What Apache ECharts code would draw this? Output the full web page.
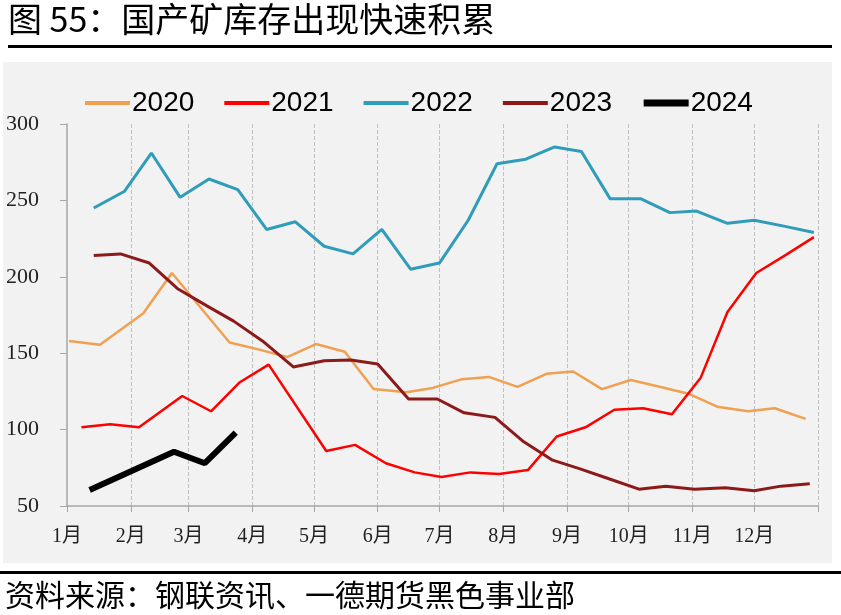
<!DOCTYPE html>
<html>
<head>
<meta charset="utf-8">
<script src="https://cdn.jsdelivr.net/npm/echarts@6/dist/echarts.min.js"></script>
<style>
html,body{margin:0;padding:0;background:#fff;}
#chart{width:841px;height:615px;}
</style>
</head>
<body>
<div id="chart"></div>
<script>
// Month tick labels and their day-of-year start positions
const monthLabels = ['1月','2月','3月','4月','5月','6月','7月','8月','9月','10月','11月','12月'];
const monthStartDays = [0,31,59,90,120,151,181,212,243,273,304,334,365];
const yearLen = 365;

const seriesNames = ['2020','2021','2022','2023','2024'];

// day-of-year for each observation and the stock value
const days2020 = [1,16,37,51,79,93,107,121,135,149,165,177,192,205,219,233,246,260,274,288,302,316,331,344,359];
const vals2020 = [158,155.5,176,202.5,157,152.5,147.5,156,151,126.5,124.5,127,133,134.5,128,136.5,138,126.5,132.5,128,123.5,115,112,114,107];

const days2021 = [7,21,35,56,70,84,98,126,140,155,169,182,196,210,224,238,252,266,280,294,308,321,335,349,363];
const vals2021 = [101.5,103.5,101.5,122,112,131,142.5,86,90,78,72,69,72,71,73.5,95.5,101.5,113,114,110,134,177,202.5,214,226];

const days2022 = [13,28,41,55,69,83,97,111,125,139,153,167,181,195,209,223,237,250,264,279,293,306,321,334,349,363];
const vals2022 = [245,256,281,252,264,257,231,236,220,215,231,205,209,237,274,277,285,282,251,251,242,243,235,237,233,229];

const days2023 = [13,26,40,54,68,81,95,110,125,138,151,166,180,193,208,222,236,249,263,278,291,305,320,334,347,361];
const vals2023 = [214,215,209,192,181,171,158,141,145,145.5,143,120,120,111,108,92,80,74.5,68,61,63,61,62,60,63,64.5];

const days2024 = [11,52,67,82];
const vals2024 = [60.5,85.5,78,98];

const colors = ['#F0A050','#FF0000','#2F9CBA','#8C1A1A','#000000'];
const widths = [2.5,2.5,3,3,6];
const legendWidths = [4,4,4,4,7];

const categories = [];
for (let d = 0; d <= yearLen; d++) categories.push(String(d));

function pairs(ds, vs){ return ds.map((d,i)=>[d, vs[i]]); }
const allDays = [days2020,days2021,days2022,days2023,days2024];
const allVals = [vals2020,vals2021,vals2022,vals2023,vals2024];

const chart = echarts.init(document.getElementById('chart'));
const isMonthStart = (idx) => monthStartDays.indexOf(idx) >= 0;

chart.setOption({
  animation: false,
  backgroundColor: '#ffffff',
  graphic: [
    { type:'rect', z:-10, shape:{x:3,y:62,width:829,height:501}, style:{fill:'#f2f2f2'} },
    { type:'text', left:8, top:2, style:{text:'图 55：国产矿库存出现快速积累', font:'34px "Noto Sans CJK SC"', fill:'#000'} },
    { type:'rect', shape:{x:8,y:45,width:824,height:3}, style:{fill:'#000'} },
    { type:'rect', shape:{x:0,y:571,width:841,height:3}, style:{fill:'#000'} },
    { type:'text', left:5, top:580, style:{text:'资料来源：钢联资讯、一德期货黑色事业部', font:'30px "Noto Sans CJK SC"', fill:'#000'} }
  ],
  legend: {
    left: 78, top: 84,
    itemWidth: 45, itemHeight: 14, itemGap: 28,
    itemStyle: { opacity: 0 },
    textStyle: { fontFamily: 'Liberation Sans', fontSize: 28, color: '#000', padding:[0,0,0,-3] },
    data: seriesNames.map((n,k) => ({ name: n, lineStyle: { width: legendWidths[k], color: colors[k] } }))
  },
  grid: { left: 67, right: 23, top: 124, bottom: 109 },
  xAxis: {
    type: 'category',
    boundaryGap: false,
    data: categories,
    axisLine: { lineStyle: { color: '#a6a6a6', width: 1.5 } },
    axisTick: { interval: (i) => isMonthStart(i), length: 6, lineStyle:{color:'#a6a6a6'} },
    axisLabel: {
      interval: (i) => isMonthStart(i) && i < yearLen,
      formatter: (v) => monthLabels[monthStartDays.indexOf(Number(v))] || '',
      fontFamily: 'Liberation Serif, Noto Sans CJK SC', fontSize: 20, color: '#222', margin: 21
    },
    splitLine: { show: true, interval: (i) => isMonthStart(i) && i > 0, lineStyle: { type: 'dashed', color: '#c0c0c0' } }
  },
  yAxis: {
    type: 'value', min: 50, max: 300, interval: 50,
    axisLine: { show: true, lineStyle: { color: '#a6a6a6', width: 1.5 } },
    axisTick: { show: true, length: 7, lineStyle:{color:'#a6a6a6'} },
    axisLabel: { fontFamily: 'Liberation Serif', fontSize: 22, color: '#222', margin: 28 },
    splitLine: { show: false }
  },
  series: seriesNames.map((n, k) => ({
    name: n, type: 'line', symbol: 'none', showSymbol: false,
    data: pairs(allDays[k], allVals[k]),
    itemStyle: { color: colors[k] },
    lineStyle: { color: colors[k], width: widths[k] },
    z: k === 4 ? 5 : 2
  }))
});
</script>
</body>
</html>
